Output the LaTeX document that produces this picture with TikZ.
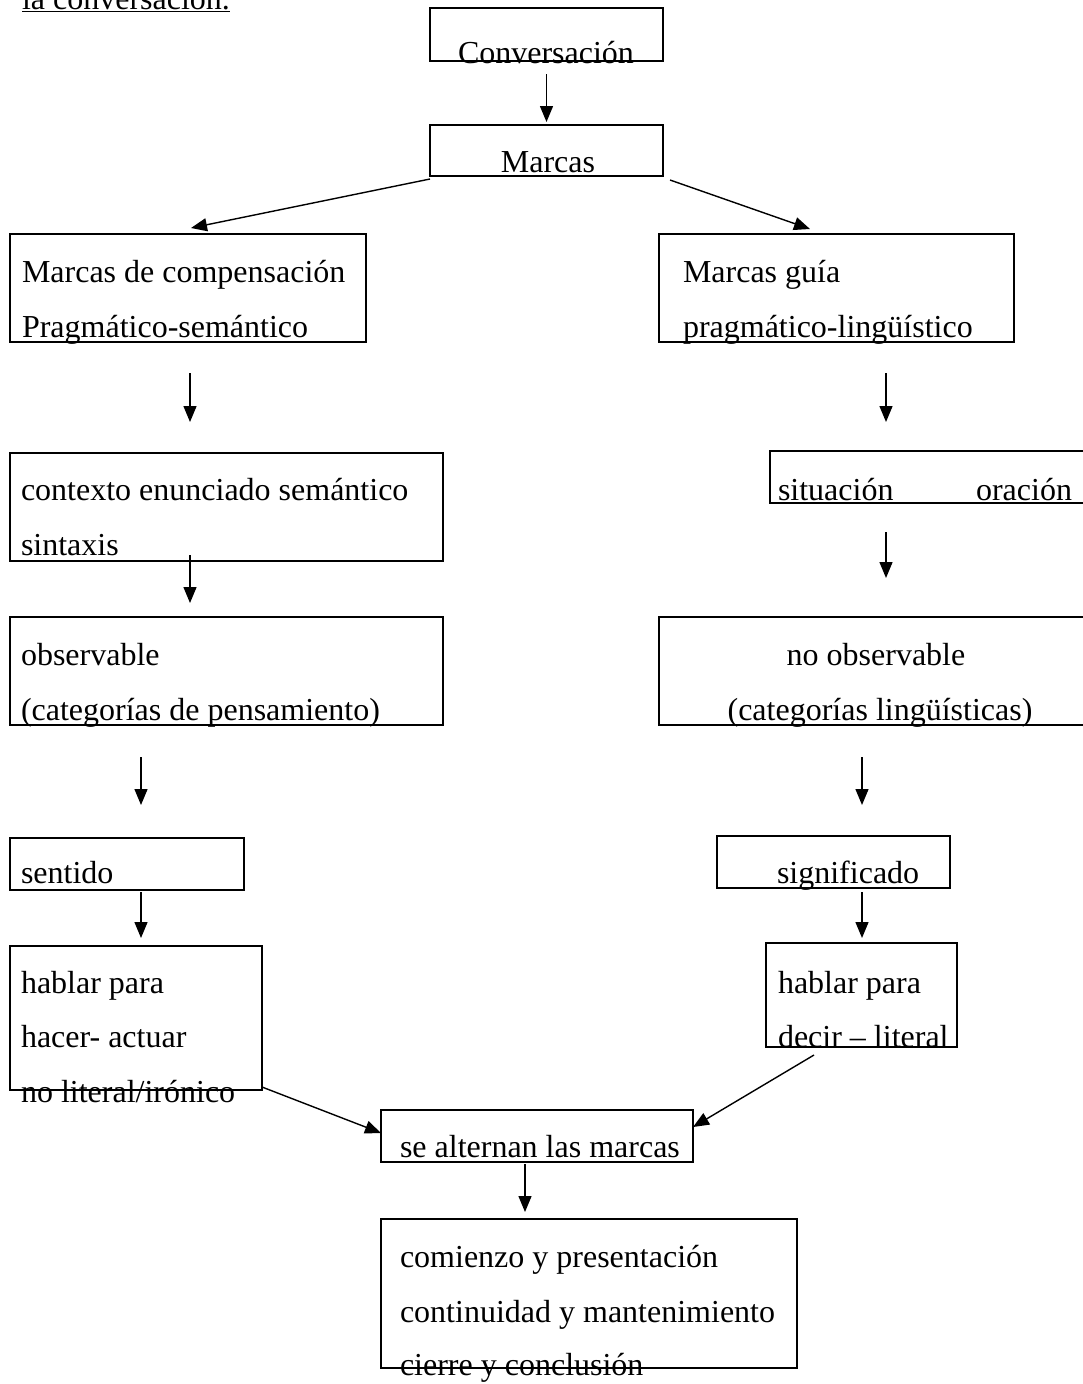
\documentclass[tikz,border=0pt]{standalone}
\usepackage{fontspec}
\setmainfont{Liberation Serif}
\usetikzlibrary{calc,arrows.meta}
\begin{document}
\begin{tikzpicture}[x=1pt,y=-1pt,
  box/.style={draw,line width=1.9pt,inner sep=0,outer sep=0,anchor=north west},
  txt/.style={inner sep=0,outer sep=0,anchor=base west,font=\fontsize{32}{38}\selectfont},
  ctxt/.style={txt,anchor=base},
  etxt/.style={txt,anchor=base east},
  arr/.style={line width=1.4pt,-{Triangle[length=16pt,width=13pt]}}]
\useasboundingbox (0,0) rectangle (1082,1384);
% title
\node[txt] (title) at (22,9) {\underline{la conversación.}};
% boxes
\node[box,minimum width=233,minimum height=53] (conv) at (430,8) {};
\node[box,minimum width=233,minimum height=51] (marcas) at (430,125) {};
\node[box,minimum width=356,minimum height=108] (comp) at (10,234) {};
\node[box,minimum width=355,minimum height=108] (guia) at (659,234) {};
\node[box,minimum width=433,minimum height=108] (ctx) at (10,453) {};
\node[box,minimum width=318,minimum height=52] (sit) at (770,451) {};
\node[box,minimum width=433,minimum height=108] (obs) at (10,617) {};
\node[box,minimum width=429,minimum height=108] (nobs) at (659,617) {};
\node[box,minimum width=234,minimum height=52] (sent) at (10,838) {};
\node[box,minimum width=233,minimum height=52] (sig) at (717,836) {};
\node[box,minimum width=252,minimum height=144] (hl) at (10,946) {};
\node[box,minimum width=191,minimum height=104] (hr) at (766,943) {};
\node[box,minimum width=312,minimum height=52] (alt) at (381,1110) {};
\node[box,minimum width=416,minimum height=149] (fin) at (381,1219) {};
% texts
\node[ctxt] (tconv) at (546,63) {Conversación};
\node[ctxt] (tmarcas) at (548,172) {Marcas};
\node[txt] (tcomp1) at (22,282) {Marcas de compensación};
\node[txt] (tcomp2) at (22,337) {Pragmático-semántico};
\node[txt] (tguia1) at (683,282) {Marcas guía};
\node[txt] (tguia2) at (683,337) {pragmático-lingüístico};
\node[txt] (tctx1) at (21,500) {contexto enunciado semántico};
\node[txt] (tctx2) at (21,555) {sintaxis};
\node[txt] (tsit1) at (778,500) {situación};
\node[etxt] (tsit2) at (1072,500) {oración};
\node[txt] (tobs1) at (21,665) {observable};
\node[txt] (tobs2) at (21,720) {(categorías de pensamiento)};
\node[ctxt] (tnobs1) at (876,665) {no observable};
\node[ctxt] (tnobs2) at (880,720) {(categorías lingüísticas)};
\node[txt] (tsent) at (21,883) {sentido};
\node[txt] (tsig) at (777,883) {significado};
\node[txt] (thl1) at (21,993) {hablar para};
\node[txt] (thl2) at (21,1047) {hacer- actuar};
\node[txt] (thl3) at (21,1102) {no literal/irónico};
\node[txt] (thr1) at (778,993) {hablar para};
\node[txt] (thr2) at (778,1047) {decir – literal};
\node[txt] (talt) at (400,1157) {se alternan las marcas};
\node[txt] (tfin1) at (400,1267) {comienzo y presentación};
\node[txt] (tfin2) at (400,1322) {continuidad y mantenimiento};
\node[txt] (tfin3) at (400,1375) {cierre y conclusión};
% connectors
\draw[arr] ([yshift=-13pt]conv.south) -- ([yshift=3pt]marcas.north);
\draw[arr] ($(marcas.south west)+(0,3)$) -- ($(comp.north west)+(181,-6)$);
\draw[arr] ($(marcas.south east)+(7,4)$) -- ($(guia.north west)+(151,-5)$);
\draw[arr] ($(comp.south west)+(180,31)$) -- ($(ctx.north west)+(180,-31)$);
\draw[arr] ($(guia.south west)+(227,31)$) -- ($(sit.north west)+(116,-29)$);
\draw[arr] ($(ctx.south west)+(180,-6)$) -- ($(obs.north west)+(180,-14)$);
\draw[arr] ($(sit.south west)+(116,29)$) -- ($(nobs.north west)+(227,-39)$);
\draw[arr] ($(obs.south west)+(131,32)$) -- ($(sent.north west)+(131,-33)$);
\draw[arr] ($(nobs.south west)+(203,32)$) -- ($(sig.north west)+(145,-31)$);
\draw[arr] ($(sent.south west)+(131,2)$) -- ($(hl.north west)+(131,-8)$);
\draw[arr] ($(sig.south west)+(145,4)$) -- ($(hr.north west)+(96,-5)$);
\draw[arr] ($(hl.south east)+(0,-3)$) -- ($(alt.north west)+(0,23)$);
\draw[arr] ($(hr.south west)+(48,8)$) -- ($(alt.north east)+(0,17)$);
\draw[arr] ($(alt.south west)+(144,2)$) -- ($(fin.north west)+(144,-7)$);
\end{tikzpicture}
\end{document}
